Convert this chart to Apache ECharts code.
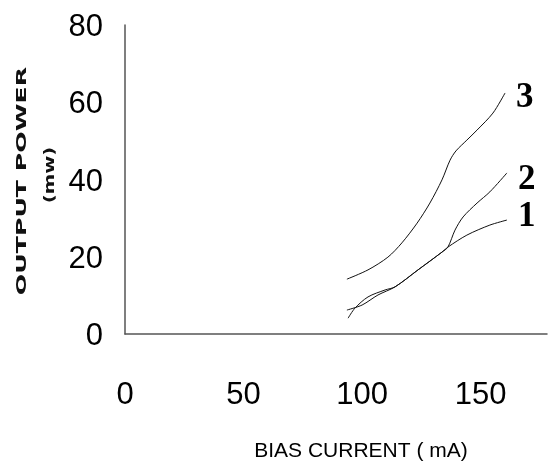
<!DOCTYPE html>
<html>
<head>
<meta charset="utf-8">
<script src="https://cdn.jsdelivr.net/npm/echarts@6/dist/echarts.min.js"></script>
<style>
html,body{margin:0;padding:0;background:#fff;}
#chart{width:548px;height:464px;}
</style>
</head>
<body>
<div id="chart"></div>
<script>
// Curve 1
var x1 = [93.6, 100.0, 106.7, 113.9, 123.6, 133.7, 136.2, 144.2, 153.9, 161.1];
var y1 = [6.2, 7.5, 10.1, 12.2, 16.6, 21.2, 22.5, 25.6, 28.2, 29.5];
// Curve 2
var x2 = [94.1, 97.0, 102.5, 109.7, 113.9, 123.6, 133.7, 136.2, 139.2, 142.6, 148.5, 153.9, 161.1];
var y2 = [4.1, 6.7, 9.6, 11.4, 12.2, 16.6, 21.2, 22.5, 26.9, 30.3, 33.9, 36.8, 41.7];
// Curve 3
var x3 = [93.6, 102.5, 110.9, 116.8, 123.2, 128.6, 133.7, 137.1, 139.6, 144.2, 148.5, 155.2, 160.3];
var y3 = [14.2, 16.6, 19.9, 23.6, 28.7, 33.9, 39.9, 45.0, 47.4, 50.2, 52.8, 57.2, 62.4];
var curveNames = ['1', '2', '3'];
var xTicks = [0, 50, 100, 150];
var yTicks = [0, 20, 40, 60, 80];
var xTitle = 'BIAS CURRENT ( mA)';
var yTitle1 = 'OUTPUT POWER';
var yTitle2 = '(mw)';

function pairs(xs, ys) { return xs.map(function (x, i) { return [x, ys[i]]; }); }

var labelFont = '"Liberation Sans Narrow", "Arial Narrow", "Liberation Sans", sans-serif';

function mkSeries(name, data, offset) {
  return {
    name: name,
    type: 'line',
    data: data,
    smooth: 0.3,
    showSymbol: false,
    symbol: 'none',
    lineStyle: { color: '#111', width: 1 },
    endLabel: {
      show: true,
      formatter: '{a}',
      color: '#000',
      fontFamily: '"Liberation Serif", "Times New Roman", serif',
      fontWeight: 'bold',
      fontSize: 35,
      distance: 11,
      offset: offset
    },
    emphasis: { disabled: true },
    silent: true
  };
}

var chart = echarts.init(document.getElementById('chart'), null, { renderer: 'canvas' });
chart.setOption({
  backgroundColor: '#fff',
  animation: false,
  grid: { left: 125, right: 1, top: 25, bottom: 130, containLabel: false, outerBoundsMode: 'none' },
  xAxis: {
    type: 'value',
    min: 0, max: 178, interval: 50,
    name: xTitle,
    nameLocation: 'middle',
    nameGap: 107,
    nameTextStyle: { fontFamily: labelFont, fontSize: 21, color: '#000', padding: [0, 0, 0, 50] },
    axisLine: { show: true, lineStyle: { color: '#555', width: 1.5 } },
    axisTick: { show: false },
    splitLine: { show: false },
    axisLabel: {
      margin: 46, color: '#000', fontFamily: labelFont, fontSize: 31,
      showMaxLabel: false,
      formatter: function (v) { return xTicks.indexOf(v) >= 0 ? String(v) : ''; }
    }
  },
  yAxis: {
    type: 'value',
    min: 0, max: 80, interval: 20,
    axisLine: { show: true, lineStyle: { color: '#555', width: 1.5 } },
    axisTick: { show: false },
    splitLine: { show: false },
    axisLabel: {
      margin: 22, color: '#000', fontFamily: labelFont, fontSize: 31,
      verticalAlign: 'top', lineHeight: 31, padding: [-13, 0, 0, 0],
      formatter: function (v) { return yTicks.indexOf(v) >= 0 ? String(v) : ''; }
    }
  },
  graphic: [
    {
      type: 'text', x: 22, y: 181, rotation: Math.PI / 2, scaleX: 1.8, scaleY: 1,
      style: { text: yTitle1, fill: '#111', font: 'bold 14px "DejaVu Sans", sans-serif', textAlign: 'center', textVerticalAlign: 'middle' }
    },
    {
      type: 'text', x: 50, y: 175, rotation: Math.PI / 2, scaleX: 1.4, scaleY: 1,
      style: { text: yTitle2, fill: '#111', font: 'bold 14px "DejaVu Sans", sans-serif', textAlign: 'center', textVerticalAlign: 'middle' }
    }
  ],
  series: [
    mkSeries(curveNames[0], pairs(x1, y1), [0, -3]),
    mkSeries(curveNames[1], pairs(x2, y2), [0, 7]),
    mkSeries(curveNames[2], pairs(x3, y3), [0, 5])
  ]
});
</script>
</body>
</html>
